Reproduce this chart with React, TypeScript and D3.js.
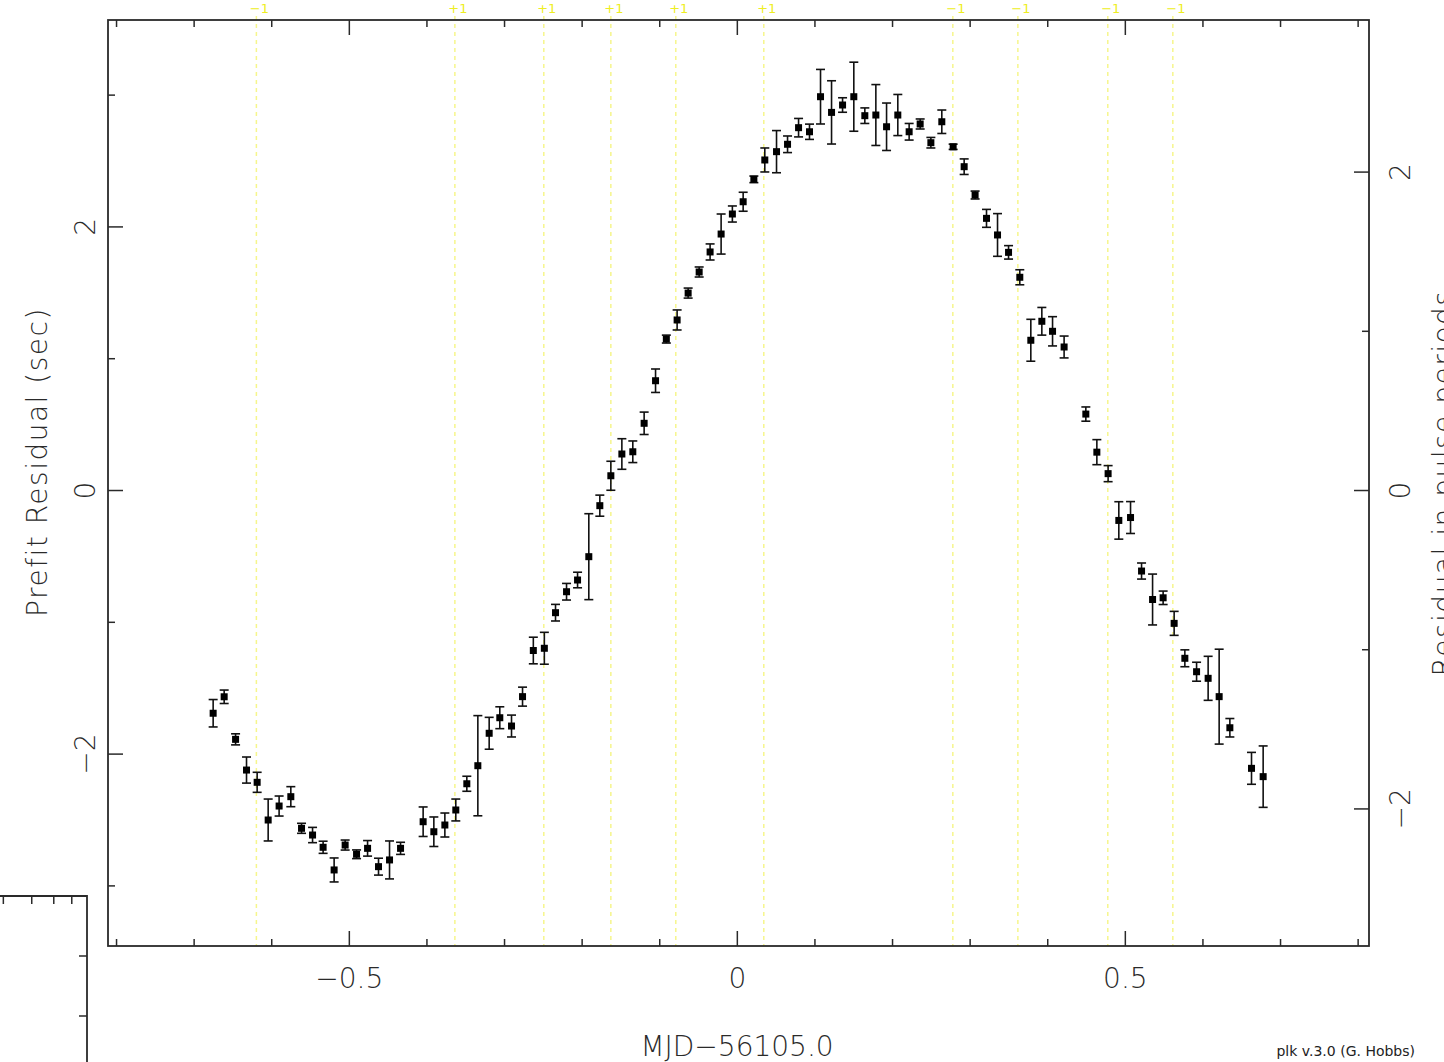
import React from 'react';
import * as d3 from 'd3';

// ---- data (MJD-56105.0 in days, residual in seconds) ----
const toaX = [
  -0.6755, -0.6613, -0.6466, -0.6325, -0.6188, -0.6046, -0.5905, -0.5754, -0.5616, -0.5474,
  -0.5338, -0.5196, -0.5054, -0.4907, -0.4765, -0.4624, -0.4482, -0.4340, -0.4049, -0.3911,
  -0.3769, -0.3628, -0.3486, -0.3344, -0.3198, -0.3061, -0.2910, -0.2768, -0.2629, -0.2487,
  -0.2343, -0.2201, -0.2059, -0.1914, -0.1772, -0.1630, -0.1488, -0.1347, -0.1201, -0.1054,
  -0.0915, -0.0776, -0.0634, -0.0492, -0.0351, -0.0209, -0.0064, 0.0075, 0.0213, 0.0354,
  0.0505, 0.0647, 0.0789, 0.0930, 0.1072, 0.1214, 0.1356, 0.1501, 0.1643, 0.1785,
  0.1923, 0.2068, 0.2214, 0.2356, 0.2494, 0.2635, 0.2781, 0.2923, 0.3064, 0.3211,
  0.3353, 0.3495, 0.3640, 0.3782, 0.3924, 0.4062, 0.4211, 0.4491, 0.4633, 0.4778,
  0.4916, 0.5067, 0.5209, 0.5351, 0.5487, 0.5629, 0.5767, 0.5918, 0.6067, 0.6209,
  0.6347, 0.6626, 0.6776,
];
const toaY = [
  -1.690, -1.565, -1.888, -2.121, -2.214, -2.500, -2.394, -2.323, -2.563, -2.614,
  -2.707, -2.879, -2.690, -2.760, -2.715, -2.854, -2.803, -2.715, -2.513, -2.589,
  -2.538, -2.424, -2.225, -2.088, -1.842, -1.724, -1.787, -1.564, -1.214, -1.197,
  -0.927, -0.768, -0.679, -0.502, -0.115, 0.112, 0.277, 0.294, 0.510, 0.833,
  1.149, 1.294, 1.498, 1.658, 1.810, 1.946, 2.098, 2.191, 2.361, 2.508,
  2.571, 2.627, 2.753, 2.722, 2.988, 2.869, 2.925, 2.988, 2.844, 2.849,
  2.760, 2.849, 2.722, 2.781, 2.639, 2.798, 2.608, 2.457, 2.242, 2.065,
  1.939, 1.807, 1.618, 1.140, 1.284, 1.208, 1.089, 0.580, 0.291, 0.128,
  -0.227, -0.205, -0.611, -0.827, -0.814, -1.008, -1.273, -1.375, -1.425, -1.564,
  -1.800, -2.108, -2.171,
];
const toaErr = [
  0.104, 0.051, 0.042, 0.099, 0.076, 0.159, 0.076, 0.076, 0.038, 0.058,
  0.046, 0.091, 0.038, 0.033, 0.059, 0.064, 0.144, 0.046, 0.112, 0.112,
  0.091, 0.083, 0.057, 0.380, 0.121, 0.083, 0.083, 0.072, 0.101, 0.121,
  0.063, 0.063, 0.059, 0.326, 0.080, 0.110, 0.116, 0.082, 0.085, 0.089,
  0.030, 0.076, 0.038, 0.038, 0.061, 0.152, 0.061, 0.072, 0.025, 0.091,
  0.160, 0.063, 0.070, 0.058, 0.207, 0.240, 0.055, 0.262, 0.059, 0.231,
  0.180, 0.156, 0.063, 0.038, 0.040, 0.089, 0.020, 0.059, 0.030, 0.068,
  0.162, 0.051, 0.057, 0.159, 0.105, 0.111, 0.083, 0.054, 0.095, 0.061,
  0.142, 0.121, 0.061, 0.193, 0.051, 0.091, 0.064, 0.072, 0.167, 0.360,
  0.070, 0.121, 0.233,
];

// phase-jump markers (yellow)
const jumpX = [-0.6198, -0.3640, -0.2494, -0.1630, -0.0793, 0.0341, 0.2777, 0.3615, 0.4774, 0.5612];
const jumpLabel = ['\u22121', '+1', '+1', '+1', '+1', '+1', '\u22121', '\u22121', '\u22121', '\u22121'];

// axes
const xDomain = [-0.811, 0.814];
const yDomain = [-3.456, 3.57];
const PERIOD = 1.208; // seconds per pulse period (right axis)
const xMajorTicks = [-0.5, 0, 0.5];
const xTickLabels = ['\u22120.5', '0', '0.5'];
const xMinorTicks = [-0.8, -0.7, -0.6, -0.4, -0.3, -0.2, -0.1, 0.1, 0.2, 0.3, 0.4, 0.6, 0.7, 0.8];
const yMajorTicks = [-2, 0, 2];
const yTickLabels = ['\u22122', '0', '2'];
const yMinorTicks = [-3, -1, 1, 3];
const pMajorTicks = [-2, 0, 2];
const pTickLabels = ['\u22122', '0', '2'];
const pMinorTicks = [-1, 1];

// partial second panel in the lower-left corner
const insetTopTicks = [3, 4, 5, 6];
const insetSideTicks = [0, 1];

const W = 1444;
const H = 1062;
const FL = 108, FR = 1369, FT = 20, FB = 946;
const INK = '#2a2a2a';
const FONT = "'DejaVu Sans', 'Liberation Sans', sans-serif";

export default function App() {
  const x = d3.scaleLinear().domain(xDomain).range([FL, FR]);
  const y = d3.scaleLinear().domain(yDomain).range([FB, FT]);
  const yp = d3.scaleLinear().domain([yDomain[0] / PERIOD, yDomain[1] / PERIOD]).range([FB, FT]);

  const insetX = d3.scaleLog().domain([2.9, 7]).range([0, 87]);
  const insetY = d3.scaleLinear().domain([0, 2]).range([1016, 896]);

  const MAJ = 15, MIN = 7;
  const pts = toaX.map((v, i) => ({ x: v, y: toaY[i], e: toaErr[i] }));

  return (
    <svg width={W} height={H} style={{ position: 'absolute', left: 0, top: 0, background: '#fff' }}
      fontFamily={FONT}>
      <rect x={0} y={0} width={W} height={H} fill="#fff" />

      {/* jump lines */}
      {jumpX.map((v, i) => (
        <g key={'j' + i}>
          <line x1={x(v)} x2={x(v)} y1={16} y2={FB} stroke="#f6f68c" strokeWidth={1.5} strokeDasharray="4 4" />
          <text x={x(v) + 3} y={13} fontSize={13} fill="#eeee22" textAnchor="middle">{jumpLabel[i]}</text>
        </g>
      ))}

      {/* frame */}
      <rect x={FL} y={FT} width={FR - FL} height={FB - FT} fill="none" stroke={INK} strokeWidth={1.8} />

      {/* x ticks bottom & top */}
      {xMajorTicks.map((v) => (
        <g key={'xM' + v}>
          <line x1={x(v)} x2={x(v)} y1={FB} y2={FB - MAJ} stroke={INK} strokeWidth={1.5} />
          <line x1={x(v)} x2={x(v)} y1={FT} y2={FT + MAJ} stroke={INK} strokeWidth={1.5} />
        </g>
      ))}
      {xMinorTicks.map((v) => (
        <g key={'xm' + v}>
          <line x1={x(v)} x2={x(v)} y1={FB} y2={FB - MIN} stroke={INK} strokeWidth={1.5} />
          <line x1={x(v)} x2={x(v)} y1={FT} y2={FT + MIN} stroke={INK} strokeWidth={1.5} />
        </g>
      ))}
      {xMajorTicks.map((v, i) => (
        <text key={'xl' + v} x={x(v)} y={988} fontSize={28} fill={INK} textAnchor="middle" fontWeight={300}>
          {xTickLabels[i]}
        </text>
      ))}

      {/* left y ticks */}
      {yMajorTicks.map((v) => (
        <line key={'yM' + v} x1={FL} x2={FL + MAJ} y1={y(v)} y2={y(v)} stroke={INK} strokeWidth={1.5} />
      ))}
      {yMinorTicks.map((v) => (
        <line key={'ym' + v} x1={FL} x2={FL + MIN} y1={y(v)} y2={y(v)} stroke={INK} strokeWidth={1.5} />
      ))}
      {yMajorTicks.map((v, i) => (
        <text key={'yl' + v} transform={`translate(95,${y(v)}) rotate(-90)`} fontSize={28} fill={INK}
          textAnchor="middle" fontWeight={300}>
          {yTickLabels[i]}
        </text>
      ))}

      {/* right y ticks (pulse periods) */}
      {pMajorTicks.map((v) => (
        <line key={'pM' + v} x1={FR} x2={FR - MAJ} y1={yp(v)} y2={yp(v)} stroke={INK} strokeWidth={1.5} />
      ))}
      {pMinorTicks.map((v) => (
        <line key={'pm' + v} x1={FR} x2={FR - MIN} y1={yp(v)} y2={yp(v)} stroke={INK} strokeWidth={1.5} />
      ))}
      {pMajorTicks.map((v, i) => (
        <text key={'pl' + v} transform={`translate(1410,${yp(v)}) rotate(-90)`} fontSize={28} fill={INK}
          textAnchor="middle" fontWeight={300}>
          {pTickLabels[i]}
        </text>
      ))}

      {/* error bars and points */}
      {pts.map((p, i) => {
        const cx = x(p.x);
        const y1 = y(p.y - p.e);
        const y2 = y(p.y + p.e);
        return (
          <g key={'p' + i}>
            <line x1={cx} x2={cx} y1={y1} y2={y2} stroke="#111" strokeWidth={1.6} />
            <line x1={cx - 4.5} x2={cx + 4.5} y1={y1} y2={y1} stroke="#111" strokeWidth={1.6} />
            <line x1={cx - 4.5} x2={cx + 4.5} y1={y2} y2={y2} stroke="#111" strokeWidth={1.6} />
            <rect x={cx - 3.5} y={y(p.y) - 3.5} width={7} height={7} fill="#000" />
          </g>
        );
      })}

      {/* axis titles */}
      <text x={737} y={1056} fontSize={28} fill={INK} textAnchor="middle" fontWeight={300}>MJD{'\u2212'}56105.0</text>
      <text transform={`translate(47,462) rotate(-90)`} fontSize={28} fill={INK} textAnchor="middle"
        fontWeight={300} letterSpacing={1.5}>
        Prefit Residual (sec)
      </text>
      <text transform={`translate(1453,${(FT + FB) / 2}) rotate(-90)`} fontSize={28} fill={INK} textAnchor="middle"
        fontWeight={300} letterSpacing={1.5}>
        Residual in pulse periods
      </text>
      <text x={1415} y={1056} fontSize={14} fill="#222" textAnchor="end" fontFamily="'DejaVu Sans', sans-serif">
        plk v.3.0 (G. Hobbs)
      </text>

      {/* partial inset panel */}
      <path d={`M0,${insetY(2)}H${insetX(7)}V${H}`} fill="none" stroke={INK} strokeWidth={1.8} />
      {insetTopTicks.map((v) => (
        <line key={'it' + v} x1={insetX(v)} x2={insetX(v)} y1={insetY(2)} y2={insetY(2) + 8} stroke={INK} strokeWidth={1.5} />
      ))}
      {insetSideTicks.map((v) => (
        <line key={'is' + v} x1={insetX(7)} x2={insetX(7) - 8} y1={insetY(v)} y2={insetY(v)} stroke={INK} strokeWidth={1.5} />
      ))}
    </svg>
  );
}
